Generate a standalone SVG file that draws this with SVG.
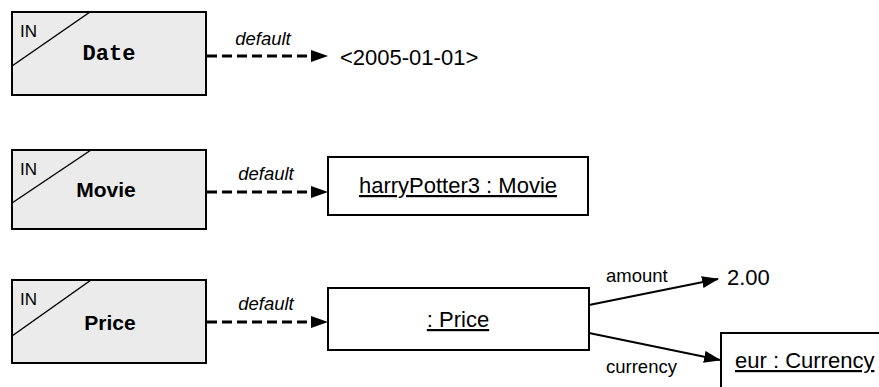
<svg xmlns="http://www.w3.org/2000/svg" width="879" height="387" viewBox="0 0 879 387">
<style>
.param{fill:#ebebeb;stroke:#000;stroke-width:2}
.obj{fill:#fff;stroke:#000;stroke-width:2}
.diag{stroke:#000;stroke-width:1.5;fill:none}
.t{font-family:"Liberation Sans",Arial,sans-serif;fill:#000}
.in{font-size:17px}
.title{font-size:21px;font-weight:bold}
.mono{font-family:"Liberation Mono","Courier New",monospace;font-size:22px;font-weight:bold}
.val{font-size:22px}
.u{text-decoration:underline}
.lbl{font-size:18.5px}
.it{font-style:italic}
.dash{stroke:#000;stroke-width:3;stroke-dasharray:10,5;fill:none}
.solid{stroke:#000;stroke-width:2;fill:none}
</style>
<defs>
<marker id="ah" markerWidth="17" markerHeight="12" refX="16" refY="6" orient="auto" markerUnits="userSpaceOnUse">
<path d="M0,0 L17,6 L0,12 z" fill="#000"/>
</marker>
</defs>
<g id="param-date">
<rect class="param" x="12" y="12" width="194" height="83"/>
<line class="diag" x1="12" y1="66" x2="90" y2="12"/>
<text class="t in" x="20" y="37">IN</text>
<text class="mono" x="109" y="60" text-anchor="middle">Date</text>
</g>
<g id="value-date">
<text class="t val" x="340" y="65">&lt;2005-01-01&gt;</text>
</g>
<g id="param-movie">
<rect class="param" x="12" y="150" width="194" height="79"/>
<line class="diag" x1="12" y1="203" x2="91" y2="150"/>
<text class="t in" x="20" y="175">IN</text>
<text class="t title" x="106" y="197" text-anchor="middle">Movie</text>
</g>
<g id="obj-movie">
<rect class="obj" x="328" y="157" width="260" height="58"/>
<text class="t val u" x="458" y="193" text-anchor="middle">harryPotter3 : Movie</text>
</g>
<g id="param-price">
<rect class="param" x="12" y="280" width="194" height="83"/>
<line class="diag" x1="12" y1="336" x2="91" y2="280"/>
<text class="t in" x="20" y="305">IN</text>
<text class="t title" x="110" y="330" text-anchor="middle">Price</text>
</g>
<g id="obj-price">
<rect class="obj" x="328" y="288" width="261" height="62"/>
<text class="t val u" x="458" y="327" text-anchor="middle">: Price</text>
</g>
<g id="value-amount">
<text class="t val" x="727" y="285">2.00</text>
</g>
<g id="obj-currency">
<rect class="obj" x="721" y="333" width="200" height="100"/>
<text class="t val u" x="735" y="368">eur : Currency</text>
</g>
<g id="connectors">
<line class="dash" x1="207" y1="56" x2="327" y2="56" marker-end="url(#ah)"/>
<text class="t lbl it" x="263" y="45" text-anchor="middle">default</text>
<line class="dash" x1="207" y1="192" x2="327" y2="192" marker-end="url(#ah)"/>
<text class="t lbl it" x="266" y="180" text-anchor="middle">default</text>
<line class="dash" x1="207" y1="322" x2="327" y2="322" marker-end="url(#ah)"/>
<text class="t lbl it" x="266" y="310" text-anchor="middle">default</text>
<line class="solid" x1="589" y1="305" x2="718" y2="279" marker-end="url(#ah)"/>
<text class="t lbl" x="606" y="282">amount</text>
<line class="solid" x1="589" y1="333" x2="720" y2="360" marker-end="url(#ah)"/>
<text class="t lbl" x="606" y="373">currency</text>
</g>
</svg>
